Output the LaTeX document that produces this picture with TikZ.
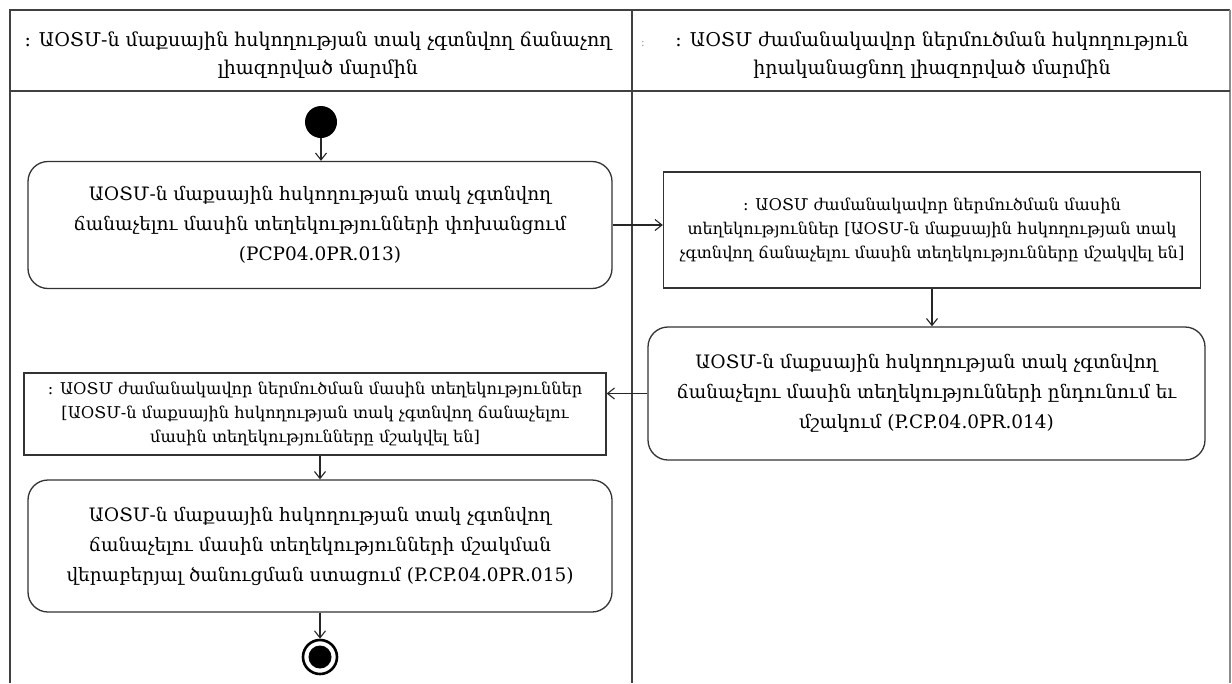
\documentclass[tikz,border=0pt]{standalone}
\usepackage{fontspec}
\setmainfont{DejaVu Serif}
\usetikzlibrary{arrows.meta}
\begin{document}
\begin{tikzpicture}[x=1pt,y=-1pt,
  frame/.style={draw=black!75, line width=1.3pt},
  act/.style={draw=black!80, line width=1.3pt, rounded corners=20pt, align=center,
    font=\fontsize{18.5}{30}\selectfont, inner sep=0pt},
  obj/.style={draw=black!80, line width=1.3pt, rectangle, align=center,
    font=\fontsize{16.2}{24}\selectfont, inner sep=0pt},
  hdr/.style={align=center, font=\fontsize{19}{28}\selectfont, inner sep=0pt},
  arr/.style={draw=black!85, line width=1.1pt, -{Straight Barb[length=7pt,width=11pt,line width=1.1pt]}},
  initnode/.style={circle, fill=black, minimum size=32pt, inner sep=0pt},
  finalnode/.style={circle, draw=black, line width=2.6pt, fill=white, minimum size=34pt, inner sep=0pt},
  finalcore/.style={circle, fill=black, minimum size=23pt, inner sep=0pt}
]
\useasboundingbox (0,0) rectangle (1232,683);
% frame
\draw[frame] (10,683) -- (10,10) -- (1230,10);
\draw[draw=black!45, line width=1.1pt] (1230,10) -- (1230,683);
\draw[frame] (10,91) -- (1230,91);
\draw[frame] (632,10) -- (632,683);
% headers
\node[hdr] (hl) at (318,55) {: ԱՕՏՄ-ն մաքսային հսկողության տակ չգտնվող ճանաչող\\լիազորված մարմին};
\node[hdr] (hr) at (932,55) {: ԱՕՏՄ ժամանակավոր ներմուծման հսկողություն\\իրականացնող լիազորված մարմին};
\node[font=\fontsize{12}{12}\selectfont, text=black!35, inner sep=0pt] (dots) at (643,44) {:};
% nodes
\node[initnode] (start) at (321,122) {};
\node[act, minimum width=584pt, minimum height=127pt] (b1) at (320,225)
  {ԱՕՏՄ-ն մաքսային հսկողության տակ չգտնվող\\ճանաչելու մասին տեղեկությունների փոխանցում\\(PCP04.0PR.013)};
\node[obj, minimum width=537pt, minimum height=116pt] (b2) at (932,230)
  {: ԱՕՏՄ ժամանակավոր ներմուծման մասին\\տեղեկություններ {[}ԱՕՏՄ-ն մաքսային հսկողության տակ\\չգտնվող ճանաչելու մասին տեղեկությունները մշակվել են{]}};
\node[act, minimum width=557pt, minimum height=133pt] (b3) at (926.5,393.5)
  {ԱՕՏՄ-ն մաքսային հսկողության տակ չգտնվող\\ճանաչելու մասին տեղեկությունների ընդունում եւ\\մշակում (P.CP.04.0PR.014)};
\node[obj, minimum width=582pt, minimum height=82pt] (b4) at (315,414)
  {: ԱՕՏՄ ժամանակավոր ներմուծման մասին տեղեկություններ\\{[}ԱՕՏՄ-ն մաքսային հսկողության տակ չգտնվող ճանաչելու\\մասին տեղեկությունները մշակվել են{]}};
\node[act, minimum width=584pt, minimum height=132pt] (b5) at (320,546)
  {ԱՕՏՄ-ն մաքսային հսկողության տակ չգտնվող\\ճանաչելու մասին տեղեկությունների մշակման\\վերաբերյալ ծանուցման ստացում (P.CP.04.0PR.015)};
\node[finalnode] (end) at (320,657) {};
\node[finalcore] (endc) at (end.center) {};
% connectors
\draw[arr] (start.south) -- (start.south |- b1.north);
\draw[arr] (b1.east) -- (b1.east -| b2.west);
\draw[arr] (b2.south) -- (b2.south |- b3.north);
\draw[arr] (b3.west) -- (b3.west -| b4.east);
\draw[arr] (b4.south -| b5.north) -- (b5.north);
\draw[arr] (b5.south) -- (end.north);
\end{tikzpicture}
\end{document}
